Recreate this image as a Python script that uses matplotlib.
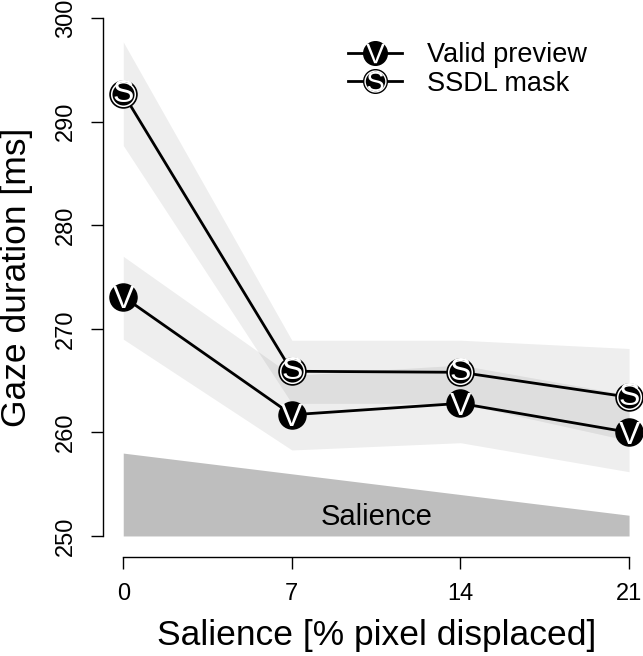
import matplotlib
matplotlib.use('Agg')
from matplotlib import pyplot as plt
from matplotlib.lines import Line2D
from matplotlib.legend_handler import HandlerTuple

plt.rcParams['font.family'] = ['Liberation Sans', 'DejaVu Sans']
plt.rcParams['mathtext.fontset'] = 'custom'
plt.rcParams['mathtext.rm'] = 'Liberation Sans'

# salience level (% pixel displaced)
salience = [0, 7, 14, 21]

# gaze durations [ms] with confidence bands
valid = [273.1, 261.7, 262.8, 260.0]
valid_lo = [269.0, 258.3, 259.0, 256.2]
valid_hi = [277.0, 265.5, 266.5, 263.6]

ssdl = [292.7, 265.9, 265.8, 263.4]
ssdl_lo = [287.7, 262.8, 262.8, 259.2]
ssdl_hi = [297.7, 268.9, 268.9, 268.1]

# salience wedge at the bottom
wedge_base = [250, 250, 250, 250]
wedge_top = [258, 256, 254, 252]

xticks = [0, 7, 14, 21]
yticks = [250, 260, 270, 280, 290, 300]

fig = plt.figure(figsize=(6.43, 6.56), dpi=100)
ax = fig.add_axes([0.1602, 0.1514, 0.8496, 0.8527])
ax.set_xlim(-0.84, 21.84)
ax.set_ylim(248, 302)

# wedge + bands
ax.fill_between(salience, wedge_base, wedge_top, color='#bebebe', lw=0)
ax.text(10.5, 251.8, 'Salience', ha='center', va='center', fontsize=21)
ax.fill_between(salience, ssdl_lo, ssdl_hi, color='black', alpha=0.065, lw=0)
ax.fill_between(salience, valid_lo, valid_hi, color='black', alpha=0.065, lw=0)

# lines with letter markers
for ys, letter in [(valid, 'V'), (ssdl, 'S')]:
    ax.plot(salience, ys, color='black', lw=2.0, marker='o', ms=19.5, mfc='black', mec='black', zorder=3)
    if letter == 'S':
        ax.plot(salience, ys, ls='none', marker='o', ms=17, mfc='none', mec='white', mew=1.1, zorder=4)
    for xx, yy in zip(salience, ys):
        ax.text(xx, yy, letter, color='white', ha='center',
                va='center_baseline' if letter == 'V' else 'center', fontsize=23, zorder=5)

# R-like axes
for s in ['top', 'right']:
    ax.spines[s].set_visible(False)
ax.spines['left'].set_bounds(250, 300)
ax.spines['bottom'].set_bounds(0, 21)
ax.spines['left'].set_linewidth(1.0)
ax.spines['bottom'].set_linewidth(1.0)
ax.set_xticks(xticks)
ax.set_yticks(yticks)
ax.tick_params(axis='both', length=8.6, width=1.0, labelsize=17)
ax.tick_params(axis='x', pad=10)
ax.tick_params(axis='y', pad=10, labelrotation=90)
for lab in ax.get_yticklabels():
    lab.set_va('center')

ax.set_xlabel('Salience [% pixel displaced]', fontsize=25.5)
ax.set_ylabel('Gaze duration [ms]', fontsize=25.5, va='center')
ax.xaxis.set_label_coords(0.5, -0.112)
ax.yaxis.set_label_coords(-0.159, 0.5)

# legend
def handle(letter, ring):
    parts = [Line2D([], [], color='black', lw=2.0),
             Line2D([], [], ls='none', marker='o', ms=17, mfc='black', mec='black')]
    if ring:
        parts.append(Line2D([], [], ls='none', marker='o', ms=15, mfc='none', mec='white', mew=1.0))
    parts.append(Line2D([], [], ls='none', marker='$\\mathrm{%s}$' % letter, ms=14, color='white', mew=0))
    return tuple(parts)

leg = ax.legend([handle('V', False), handle('S', True)], ['Valid preview', 'SSDL mask'],
                handler_map={tuple: HandlerTuple(ndivide=1)},
                loc='upper left', bbox_to_anchor=(0.5412, 0.936), bbox_transform=fig.transFigure,
                frameon=False, fontsize=19.5, handlelength=2.0, handletextpad=0.9,
                labelspacing=0.1, borderpad=0, borderaxespad=0)

fig.savefig('out.png', dpi=100)
